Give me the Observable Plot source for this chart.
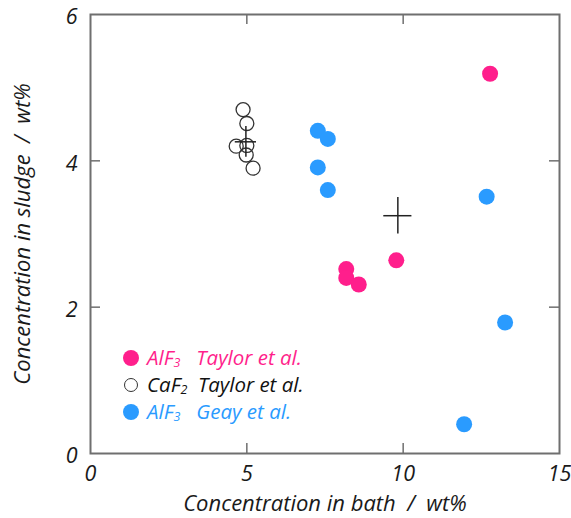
<!DOCTYPE html>
<html>
<head>
<meta charset="utf-8">
<script src="https://cdn.jsdelivr.net/npm/d3@7"></script>
<script src="https://cdn.jsdelivr.net/npm/@observablehq/plot@0.6"></script>
<style>
  body { margin: 0; background: #fff; }
  #wrap { position: relative; width: 571px; height: 518px; font-family: "Open Sans", sans-serif; }
  #legend { position: absolute; left: 123px; top: 344px; font-style: italic; font-size: 20.5px; line-height: 27px; }
  #legend .row { display: flex; align-items: center; white-space: nowrap; height: 27px; }
  #legend .sw { width: 16px; height: 16px; border-radius: 50%; box-sizing: border-box; margin-right: 8px; }
  #legend sub { font-size: 12.5px; vertical-align: -2px; line-height: 0; }
</style>
</head>
<body>
<div id="wrap"><div id="legend"></div></div>
<script>
const pink = "#ff1f8c";
const blue = "#2a9bff";

// AlF3 Taylor et al.
const taylorAlF3X = [12.78, 9.78, 8.18, 8.18, 8.58];
const taylorAlF3Y = [5.19, 2.64, 2.52, 2.40, 2.31];
// CaF2 Taylor et al.
const taylorCaF2X = [4.88, 5.00, 4.66, 5.00, 4.98, 5.20];
const taylorCaF2Y = [4.70, 4.51, 4.20, 4.21, 4.08, 3.90];
// AlF3 Geay et al.
const geayX = [7.27, 7.59, 7.27, 7.59, 12.67, 13.26, 11.95];
const geayY = [4.41, 4.30, 3.91, 3.60, 3.51, 1.79, 0.40];
// mean values with spread (crosses)
const meanX = [9.83, 4.97];
const meanY = [3.25, 4.26];
const meanDX = [0.45, 0.34];
const meanDY = [0.25, 0.21];

const xTicks = [0, 5, 10, 15];
const yTicks = [0, 2, 4, 6];

const zip = (xs, ys) => xs.map((x, i) => ({x, y: ys[i]}));
const pinkData = zip(taylorAlF3X, taylorAlF3Y);
const blackData = zip(taylorCaF2X, taylorCaF2Y);
const blueData = zip(geayX, geayY);
const means = meanX.map((x, i) => ({x, y: meanY[i], dx: meanDX[i], dy: meanDY[i]}));

const frameColor = "#6f6f6f";
const W = 571, H = 518, mL = 90, mR = 12, mT = 14, mB = 65;
const innerW = W - mL - mR, innerH = H - mT - mB;
const tick = 10;

const chart = Plot.plot({
  width: W, height: H,
  marginLeft: mL, marginRight: mR, marginTop: mT, marginBottom: mB,
  style: {fontFamily: "Open Sans, sans-serif", background: "white"},
  x: {domain: [0, 15]},
  y: {domain: [0, 6]},
  marks: [
    Plot.axisX({ticks: xTicks, tickFormat: "d", tickSize: 0, tickPadding: 12, fontSize: 21.5, fontStyle: "italic", color: "#1a1a1a", label: null}),
    Plot.axisX({ticks: [], fontSize: 22, fontStyle: "italic", color: "#1a1a1a",
      label: "Concentration in bath  /  wt%", labelAnchor: "center", labelOffset: 57, labelArrow: "none"}),
    Plot.axisY({ticks: yTicks, tickFormat: "d", tickSize: 0, tickPadding: 13, dy: 3, fontSize: 21.5, fontStyle: "italic", color: "#1a1a1a", label: null}),
    Plot.axisY({ticks: [], fontSize: 22, fontStyle: "italic", color: "#1a1a1a",
      label: "Concentration in sludge  /  wt%", labelAnchor: "center", labelOffset: 76, labelArrow: "none"}),
    // inward ticks
    Plot.tickY(yTicks.slice(1, 3), {y: d => d, insetRight: innerW - tick, stroke: frameColor, strokeWidth: 1.5}),
    Plot.tickY(yTicks.slice(1, 3), {y: d => d, insetLeft: innerW - tick, stroke: frameColor, strokeWidth: 1.5}),
    Plot.tickX(xTicks.slice(1, 3), {x: d => d, insetTop: innerH - tick, stroke: frameColor, strokeWidth: 1.5}),
    Plot.tickX(xTicks.slice(1, 3), {x: d => d, insetBottom: innerH - tick, stroke: frameColor, strokeWidth: 1.5}),
    Plot.frame({stroke: frameColor, strokeWidth: 2}),
    Plot.dot(blueData, {x: "x", y: "y", r: 8, fill: blue, stroke: "none"}),
    Plot.dot(pinkData, {x: "x", y: "y", r: 8, fill: pink, stroke: "none"}),
    Plot.dot(blackData, {x: "x", y: "y", r: 7, fill: "none", stroke: "#333", strokeWidth: 1.3}),
    Plot.ruleX(means, {x: "x", y1: d => d.y - d.dy, y2: d => d.y + d.dy, stroke: "#222", strokeWidth: 1.5}),
    Plot.ruleY(means, {y: "y", x1: d => d.x - d.dx, x2: d => d.x + d.dx, stroke: "#222", strokeWidth: 1.5})
  ]
});
document.getElementById("wrap").prepend(chart);
chart.style.position = "absolute";
chart.style.left = "0"; chart.style.top = "0";

const legendItems = [
  {fill: pink, stroke: "none", color: pink, html: "AlF<sub>3</sub>&nbsp;&nbsp;&nbsp;Taylor et al."},
  {fill: "none", stroke: "#333", color: "#111", html: "CaF<sub>2</sub>&nbsp;&nbsp;Taylor et al."},
  {fill: blue, stroke: "none", color: blue, html: "AlF<sub>3</sub>&nbsp;&nbsp;&nbsp;Geay et al."}
];
const leg = document.getElementById("legend");
for (const it of legendItems) {
  const row = document.createElement("div");
  row.className = "row";
  const sw = document.createElement("span");
  sw.className = "sw";
  sw.style.background = it.fill === "none" ? "transparent" : it.fill;
  if (it.stroke !== "none") { sw.style.border = "1.5px solid " + it.stroke; sw.style.width = "14px"; sw.style.height = "14px"; sw.style.margin = "0 9px 0 1px"; }
  const t = document.createElement("span");
  t.style.color = it.color;
  t.innerHTML = it.html;
  row.append(sw, t);
  leg.append(row);
}
</script>
</body>
</html>
